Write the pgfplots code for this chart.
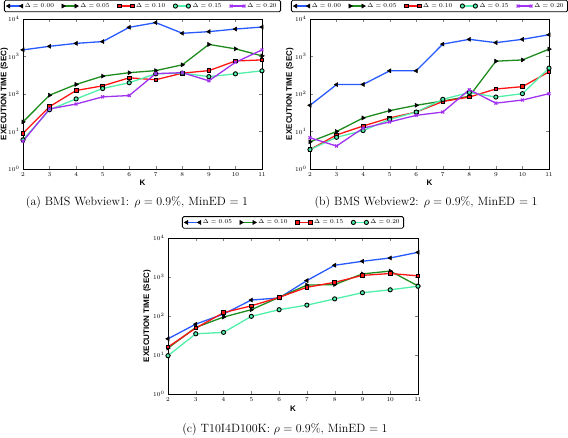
\documentclass[border=0pt]{standalone}
\usepackage{pgfplots}
\pgfplotsset{compat=1.18}
\usepackage{pgfplotstable}
\usepackage{fontspec}
\newfontfamily\labfont{Liberation Sans}
\definecolor{cA}{RGB}{40,90,255}
\definecolor{cB}{RGB}{30,140,30}
\definecolor{cC}{RGB}{255,20,20}
\definecolor{cD}{RGB}{80,240,170}
\definecolor{cE}{RGB}{160,50,240}

\pgfplotstableread{
K d00 d05 d10 d15 d20
2 1500 18 9 6 5.5
3 1870 93 46 38 40
4 2240 180 124 74 54
5 2500 300 165 140 84
6 6000 370 270 200 91
7 8000 420 240 345 350
8 4160 600 360 360 370
9 4600 2100 420 290 225
10 5400 1600 760 345 700
11 6100 1040 810 415 1500
}\dataA

\pgfplotstableread{
K d00 d05 d10 d15 d20
2 50 5.3 3.3 3.3 6.8
3 178 10 8.1 7 4.1
4 180 23 14 10.6 12.3
5 415 36 23 21 18
6 415 50 33 33 27
7 2140 65 63 72 33
8 2870 87 83 110 130
9 2340 750 136 83 57
10 2870 810 157 102 69
11 3800 1570 390 490 102
}\dataB

\pgfplotstableread{
K d05 d10 d15 d20
2 26 15 16 9.6
3 62 51 49 35
4 112 94 122 38
5 257 145 182 98
6 290 300 300 145
7 810 620 545 190
8 2000 640 730 275
9 2530 1200 1100 395
10 3080 1420 1230 470
11 4300 590 1070 580
}\dataC

\pgfplotsset{
  every axis/.append style={
    scale only axis,
    ymode=log,
    xmin=2, xmax=11, ymin=1, ymax=10000,
    xtick={2,3,4,5,6,7,8,9,10,11},
    ytick={1,10,100,1000,10000},
    yminorticks=false,
    tick align=inside,
    major tick length=3pt,
    tick label style={font=\fontsize{6}{7}\selectfont},
    xlabel={K},
    ylabel={EXECUTION TIME (SEC)},
    label style={font=\labfont\bfseries\fontsize{8}{9}\selectfont},
    axis line style={line width=0.6pt},
    legend style={
      font=\fontsize{6.2}{7}\selectfont,
      draw=black, line width=0.8pt, rounded corners=1.5pt,
      inner ysep=1pt, inner xsep=2pt,
      /tikz/every even column/.append style={column sep=6pt},
    },
    legend image code/.code={\draw plot coordinates {(0pt,0pt) (13pt,0pt)};},
  },
}
\tikzset{
  mysA/.style={color=cA, line width=1.3pt, mark=triangle*, mark size=2.3pt, mark options={rotate=90, fill=black, draw=black, line width=0.5pt}},
  mysB/.style={color=cB, line width=1.3pt, mark=triangle*, mark size=2.3pt, mark options={rotate=-90, fill=black, draw=black, line width=0.5pt}},
  mysC/.style={color=cC, line width=1.3pt, mark=square*, mark size=1.8pt, mark options={fill=cC, draw=black, line width=0.8pt}},
  mysD/.style={color=cD, line width=1.3pt, mark=*, mark size=2.1pt, mark options={fill=cD, draw=black, line width=0.9pt}},
  mysE/.style={color=cE, line width=1.3pt, mark=x, mark size=2pt, mark options={draw=cE, line width=1.2pt}},
}

\begin{document}
\begin{tikzpicture}
\path[use as bounding box] (0pt,0pt) rectangle (568pt,437pt);

% Panel (a)
\begin{axis}[at={(23pt,268pt)}, anchor=south west, width=239pt, height=150pt,
  legend columns=5,
  ylabel style={at={(axis description cs:-0.078,0.5)}, anchor=center},
  xlabel style={at={(axis description cs:0.5,-0.09)}, anchor=center},
  legend style={at={(0.5,1.045)}, anchor=south}]
\addplot[mysA] table[x=K,y=d00] {\dataA}; \addlegendentry{$\Delta = 0.00$}
\addplot[mysB] table[x=K,y=d05] {\dataA}; \addlegendentry{$\Delta = 0.05$}
\addplot[mysC] table[x=K,y=d10] {\dataA}; \addlegendentry{$\Delta = 0.10$}
\addplot[mysD] table[x=K,y=d15] {\dataA}; \addlegendentry{$\Delta = 0.15$}
\addplot[mysE] table[x=K,y=d20] {\dataA}; \addlegendentry{$\Delta = 0.20$}
\end{axis}

% Panel (b)
\begin{axis}[at={(310pt,268pt)}, anchor=south west, width=239pt, height=150pt,
  legend columns=5,
  ylabel style={at={(axis description cs:-0.084,0.5)}, anchor=center},
  xlabel style={at={(axis description cs:0.5,-0.09)}, anchor=center},
  legend style={at={(0.5,1.045)}, anchor=south}]
\addplot[mysA] table[x=K,y=d00] {\dataB}; \addlegendentry{$\Delta = 0.00$}
\addplot[mysB] table[x=K,y=d05] {\dataB}; \addlegendentry{$\Delta = 0.05$}
\addplot[mysC] table[x=K,y=d10] {\dataB}; \addlegendentry{$\Delta = 0.10$}
\addplot[mysD] table[x=K,y=d15] {\dataB}; \addlegendentry{$\Delta = 0.15$}
\addplot[mysE] table[x=K,y=d20] {\dataB}; \addlegendentry{$\Delta = 0.20$}
\end{axis}

% Panel (c)
\begin{axis}[at={(168pt,43pt)}, anchor=south west, width=250pt, height=156pt,
  legend columns=4,
  ylabel style={at={(axis description cs:-0.084,0.5)}, anchor=center},
  xlabel style={at={(axis description cs:0.5,-0.096)}, anchor=center},
  legend style={at={(0.5,1.06)}, anchor=south}]
\addplot[mysA] table[x=K,y=d05] {\dataC}; \addlegendentry{$\Delta = 0.05$}
\addplot[mysB] table[x=K,y=d10] {\dataC}; \addlegendentry{$\Delta = 0.10$}
\addplot[mysC] table[x=K,y=d15] {\dataC}; \addlegendentry{$\Delta = 0.15$}
\addplot[mysD] table[x=K,y=d20] {\dataC}; \addlegendentry{$\Delta = 0.20$}
\end{axis}

\node[font=\fontsize{12}{14}\selectfont] at (137pt,234pt) {(a) BMS Webview1: $\rho = 0.9\%$, MinED $= 1$};
\node[font=\fontsize{12}{14}\selectfont] at (426pt,234pt) {(b) BMS Webview2: $\rho = 0.9\%$, MinED $= 1$};
\node[font=\fontsize{12}{14}\selectfont] at (285pt,7pt) {(c) T10I4D100K: $\rho = 0.9\%$, MinED $= 1$};
\end{tikzpicture}
\end{document}
